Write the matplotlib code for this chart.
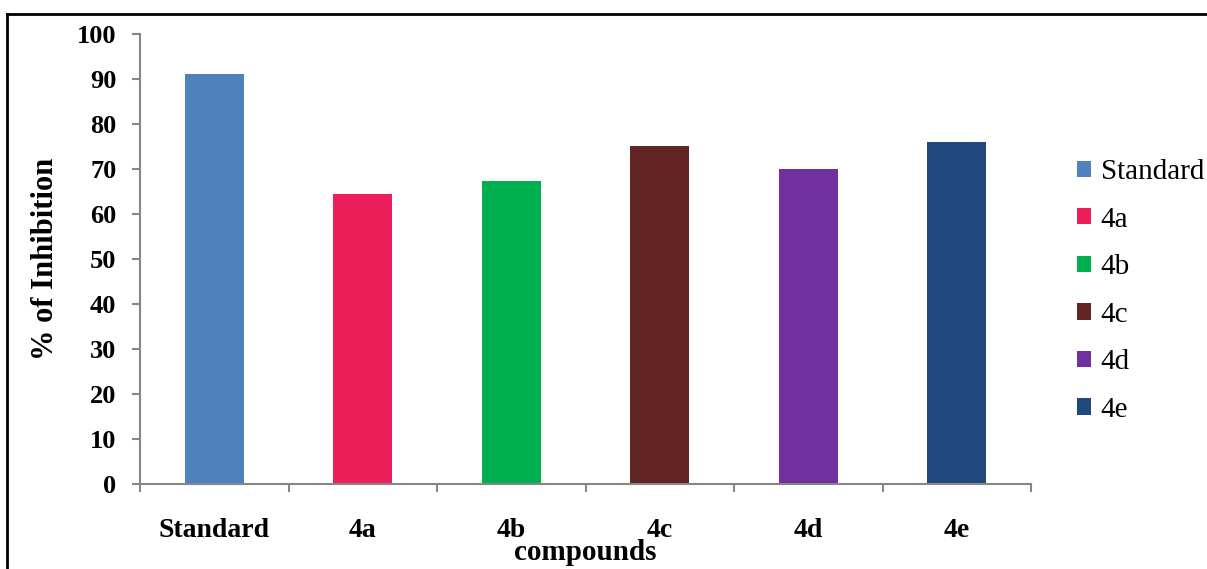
import matplotlib
matplotlib.use("Agg")
import matplotlib.pyplot as plt
from matplotlib.lines import Line2D
import numpy as np

compounds = ["Standard", "4a", "4b", "4c", "4d", "4e"]
inhibition = [91, 64.3, 67.3, 75, 70, 76]
bar_colors = ["#4F81BD", "#ED1F5B", "#00B050", "#632523", "#7030A0", "#1F497D"]

plt.rcParams['font.family'] = ['Liberation Serif', 'DejaVu Serif']

fig = plt.figure(figsize=(12.07, 5.69), dpi=100)
ax = fig.add_axes([140/1207, 0.1489, 891/1207, 0.7922])

x = np.arange(len(compounds))
bars = ax.bar(x, inhibition, width=0.4, color=bar_colors)

ax.set_xlim(-0.5, len(compounds) - 0.5)
ax.set_ylim(0, 100)
ax.set_yticks(np.arange(0, 101, 10))

axis_grey = "#868686"
for side in ["top", "right"]:
    ax.spines[side].set_visible(False)
for side in ["left", "bottom"]:
    ax.spines[side].set_color(axis_grey)
    ax.spines[side].set_linewidth(1.5)

# category labels in the middle, tick marks on the boundaries
ax.set_xticks(x)
ax.set_xticklabels(compounds, fontsize=20, fontweight="bold")
ax.set_xticks(np.arange(-0.5, len(compounds)), minor=True)
ax.tick_params(axis="x", which="major", length=0, pad=24)
ax.tick_params(axis="x", which="minor", length=6, width=1.5, color=axis_grey)
ax.tick_params(axis="y", length=6, width=1.5, color=axis_grey, pad=11, labelsize=19)
for lbl in ax.get_yticklabels():
    lbl.set_fontweight("bold")

ax.set_xlabel("compounds", fontsize=21, fontweight="bold", va="center")
ax.xaxis.set_label_coords(0.5, -0.152)
ax.set_ylabel("% of Inhibition", fontsize=22, fontweight="bold", va="center")
ax.yaxis.set_label_coords(-0.1055, 0.5)

ax.legend(bars, compounds, loc="center left", bbox_to_anchor=(1077/1207, 1 - 291/569),
          bbox_transform=fig.transFigure, frameon=False, fontsize=21,
          handlelength=0.48, handleheight=0.48, handletextpad=0.33,
          labelspacing=0.74, borderaxespad=0, borderpad=0)

# frame around the figure
fig.add_artist(Line2D([7/1207, 7/1207], [0, 1 - 14/569], transform=fig.transFigure,
                      color="black", lw=2))
fig.add_artist(Line2D([7/1207, 1], [1 - 14/569, 1 - 14/569], transform=fig.transFigure,
                      color="black", lw=2))

fig.savefig("out.png", dpi=100)
